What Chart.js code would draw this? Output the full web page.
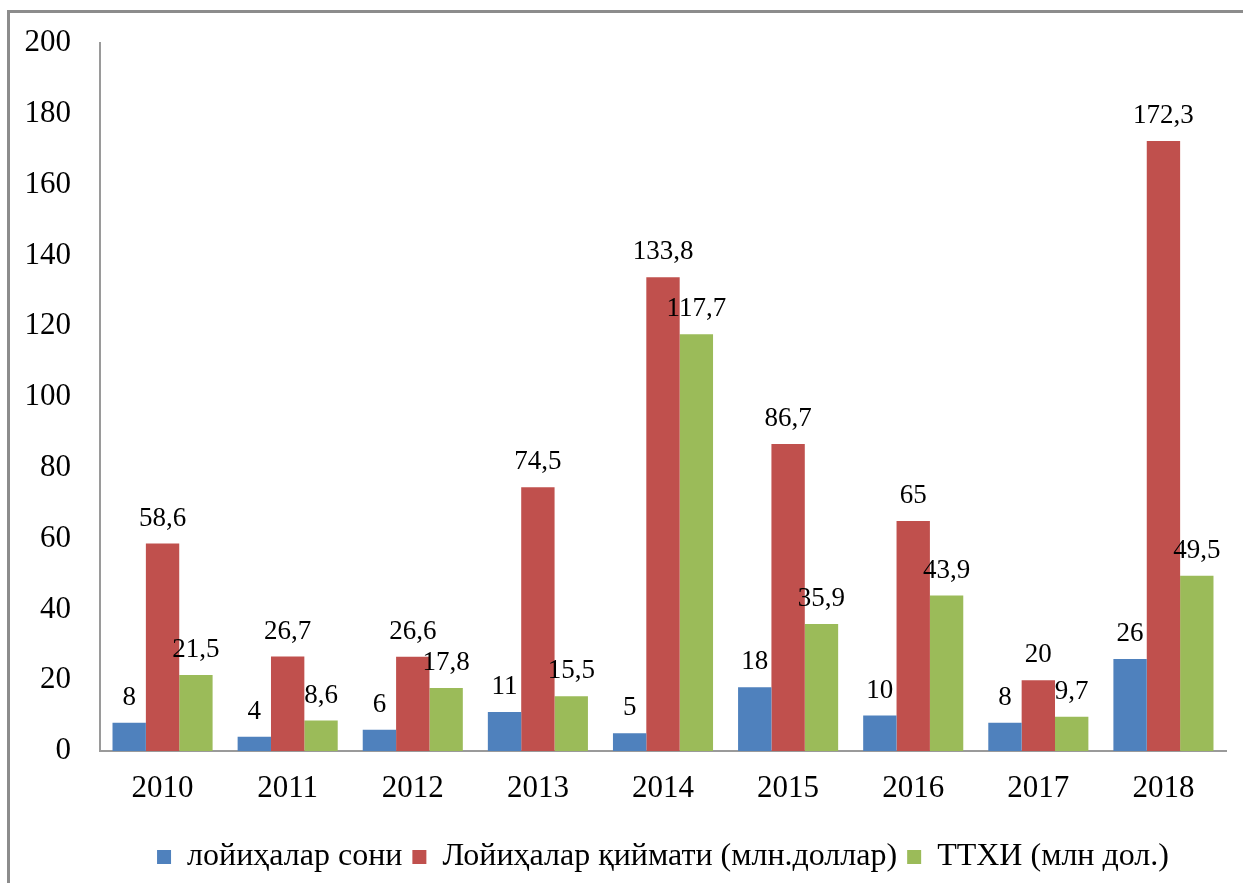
<!DOCTYPE html>
<html>
<head>
<meta charset="utf-8">
<script src="https://cdn.jsdelivr.net/npm/chart.js@4.4.1/dist/chart.umd.min.js"></script>
<style>
  body { margin: 0; background: #fff; }
  #wrap { position: relative; width: 1243px; height: 883px; overflow: hidden; }
  #frame {
    position: absolute; left: 7px; top: 10px; width: 1400px; height: 1000px;
    border-left: 3px solid #8c8c8c; border-top: 3px solid #8c8c8c;
  }
  #chart { position: absolute; left: 0; top: 0; }
</style>
</head>
<body>
<div id="wrap">
  <div id="frame"></div>
  <canvas id="chart" width="1243" height="883"></canvas>
</div>
<script>
  const years = ['2010', '2011', '2012', '2013', '2014', '2015', '2016', '2017', '2018'];
  const projectCount = [8, 4, 6, 11, 5, 18, 10, 8, 26];
  const projectValue = [58.6, 26.7, 26.6, 74.5, 133.8, 86.7, 65, 20, 172.3];
  const fdiValue = [21.5, 8.6, 17.8, 15.5, 117.7, 35.9, 43.9, 9.7, 49.5];
  const yTicks = [0, 20, 40, 60, 80, 100, 120, 140, 160, 180, 200];

  const serif = '"Liberation Serif", "Times New Roman", serif';

  // value labels above each bar, decimal comma like the original
  const barLabels = {
    id: 'barLabels',
    afterDatasetsDraw(chart) {
      const ctx = chart.ctx;
      ctx.save();
      ctx.font = '27px ' + serif;
      ctx.fillStyle = '#000';
      ctx.textAlign = 'center';
      ctx.textBaseline = 'middle';
      chart.data.datasets.forEach((ds, i) => {
        chart.getDatasetMeta(i).data.forEach((bar, j) => {
          const txt = String(ds.data[j]).replace('.', ',');
          ctx.fillText(txt, bar.x, bar.y - 25);
        });
      });
      ctx.restore();
    }
  };

  const ctx = document.getElementById('chart').getContext('2d');
  const chart = new Chart(ctx, {
    type: 'bar',
    data: {
      labels: years,
      datasets: [{
        label: 'лойиҳалар сони',
        data: projectCount,
        backgroundColor: '#4F81BD'
      }, {
        label: 'Лойиҳалар қиймати (млн.доллар)',
        data: projectValue,
        backgroundColor: '#C0504D'
      }, {
        label: 'ТТХИ (млн дол.)',
        data: fdiValue,
        backgroundColor: '#9BBB59'
      }]
    },
    options: {
      responsive: false,
      animation: false,
      events: [],
      layout: {
        padding: { left: 0, right: 17, top: 43, bottom: 0 }
      },
      datasets: {
        bar: { categoryPercentage: 0.8, barPercentage: 1.0 }
      },
      scales: {
        x: {
          grid: { display: false, drawTicks: false },
          border: { display: true, color: '#9a9a9a', width: 2 },
          ticks: {
            color: '#000',
            padding: 19,
            font: { family: serif, size: 31 }
          },
          afterFit(scale) { scale.height = 80; }
        },
        y: {
          min: 0,
          max: 200,
          afterBuildTicks(scale) { scale.ticks = yTicks.map(v => ({ value: v })); },
          // hidden tick marks give the label gap without extra top padding
          grid: { display: false, drawTicks: true, tickLength: 29 },
          border: { display: true, color: '#9a9a9a', width: 2 },
          ticks: {
            color: '#000',
            padding: 0,
            font: { family: serif, size: 31 }
          },
          afterFit(scale) { scale.width = 100; }
        }
      },
      plugins: {
        legend: {
          position: 'bottom',
          fullSize: false,
          labels: {
            color: '#000',
            boxWidth: 14,
            boxHeight: 14,
            padding: 10,
            font: { family: serif, size: 32 }
          }
        },
        tooltip: { enabled: false }
      }
    },
    plugins: [barLabels]
  });
</script>
</body>
</html>
